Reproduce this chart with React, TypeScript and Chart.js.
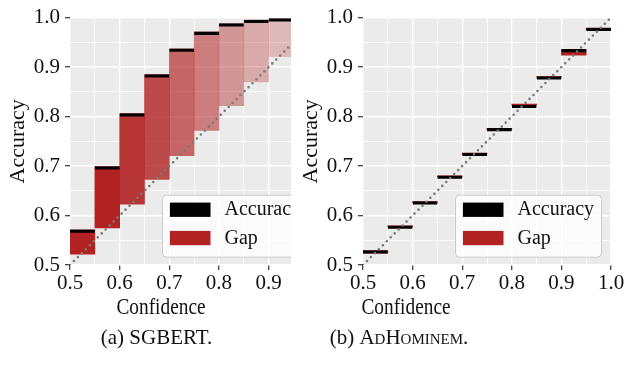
import React, { useEffect, useRef } from 'react';
import { Chart, registerables } from 'chart.js';

Chart.register(...registerables);

const FONT = "'Liberation Serif', 'Times New Roman', Times, serif";

// ---- data ----
const SGBERT_BIN_CENTERS = [0.525, 0.575, 0.625, 0.675, 0.725, 0.775, 0.825, 0.875, 0.925];
const SGBERT_ACCURACY = [0.571, 0.699, 0.806, 0.885, 0.937, 0.971, 0.988, 0.995, 0.998];
const SGBERT_CONFIDENCE = [0.522, 0.575, 0.623, 0.673, 0.721, 0.772, 0.822, 0.87, 0.921];
const SGBERT_GAP_ALPHA = [1, 1, 0.91, 0.8, 0.67, 0.55, 0.42, 0.32, 0.25];

const ADHOMINEM_BIN_CENTERS = [0.525, 0.575, 0.625, 0.675, 0.725, 0.775, 0.825, 0.875, 0.925, 0.975];
const ADHOMINEM_ACCURACY = [0.529, 0.579, 0.628, 0.68, 0.726, 0.776, 0.823, 0.881, 0.936, 0.979];
const ADHOMINEM_CONFIDENCE = [0.524, 0.577, 0.626, 0.678, 0.724, 0.774, 0.825, 0.879, 0.924, 0.975];
const ADHOMINEM_GAP_ALPHA = [1, 1, 1, 1, 1, 1, 1, 1, 1, 1];

const DIAGONAL = [0.5, 1.0];
const Y_RANGE = [0.5, 1.0];
const SGBERT_X_RANGE = [0.5, 0.945];
const ADHOMINEM_X_RANGE = [0.5, 1.0];
const SERIES_LABELS = ['Accuracy', 'Gap'];

const GAP_RGB = [178, 34, 34];

const isMajor = (v: number) => Math.abs(Math.round(v * 100) % 10) === 0;

const bgPlugin = {
  id: 'plotBg',
  beforeDraw(chart: any) {
    const { ctx, chartArea: a } = chart;
    ctx.save();
    ctx.fillStyle = '#EBEBEB';
    ctx.fillRect(a.left, a.top, a.right - a.left, a.bottom - a.top);
    ctx.restore();
  },
};

const legendPlugin = {
  id: 'insideLegend',
  afterDraw(chart: any, _args: any, opts: any) {
    const { ctx, chartArea: a } = chart;
    ctx.save();
    ctx.beginPath();
    ctx.rect(a.left, a.top, a.right - a.left, a.bottom - a.top);
    ctx.clip();
    const x = a.left + opts.offsetX;
    const y = a.top + opts.offsetY;
    const w = 146;
    const h = 62;
    const r = 4;
    ctx.beginPath();
    ctx.moveTo(x + r, y);
    ctx.lineTo(x + w - r, y);
    ctx.arcTo(x + w, y, x + w, y + r, r);
    ctx.lineTo(x + w, y + h - r);
    ctx.arcTo(x + w, y + h, x + w - r, y + h, r);
    ctx.lineTo(x + r, y + h);
    ctx.arcTo(x, y + h, x, y + h - r, r);
    ctx.lineTo(x, y + r);
    ctx.arcTo(x, y, x + r, y, r);
    ctx.closePath();
    ctx.fillStyle = 'rgba(255,255,255,0.8)';
    ctx.fill();
    ctx.strokeStyle = '#CCCCCC';
    ctx.lineWidth = 1;
    ctx.stroke();
    const items = chart.data.datasets.filter((d: any) => d.legendColor);
    items.forEach((d: any, i: number) => {
      const sy = y + 7.4 + i * 28.3;
      ctx.fillStyle = d.legendColor;
      ctx.fillRect(x + 7.4, sy, 40.6, 14.3);
      ctx.fillStyle = '#111';
      ctx.font = `20px ${FONT}`;
      ctx.textAlign = 'left';
      ctx.textBaseline = 'middle';
      ctx.fillText(d.label, x + 62, sy + 7.6);
    });
    ctx.restore();
  },
};

function axisCommon(min: number, max: number) {
  return {
    type: 'linear',
    min,
    max,
    offset: false,
    border: { display: false },
    grid: {
      offset: false,
      color: '#FFFFFF',
      lineWidth: (c: any) => (c.tick && isMajor(c.tick.value) ? 1.4 : 0.8),
      drawTicks: true,
      tickLength: 5,
      tickWidth: 1.2,
      tickColor: (c: any) => (c.tick && isMajor(c.tick.value) ? '#333333' : 'rgba(0,0,0,0)'),
    },
    ticks: {
      stepSize: 0.05,
      autoSkip: false,
      maxRotation: 0,
      includeBounds: false,
      color: '#111111',
      font: { family: FONT, size: 21 },
      callback: (v: number) => (isMajor(v) ? v.toFixed(1) : ''),
    },
  };
}

function makeConfig(
  centers: number[],
  acc: number[],
  conf: number[],
  alpha: number[],
  xRange: number[],
  padRight: number,
) {
  return {
    type: 'bar',
    data: {
      datasets: [
        {
          type: 'line',
          label: 'diag',
          data: DIAGONAL.map((v) => ({ x: v, y: v })),
          borderColor: '#7A7A7A',
          borderWidth: 2.6,
          borderDash: [0, 5.6],
          borderCapStyle: 'round',
          pointRadius: 0,
          fill: false,
          order: -1,
        },
        {
          type: 'bar',
          label: SERIES_LABELS[0],
          legendColor: '#000000',
          data: centers.map((c, i) => ({ x: c, y: acc[i] })),
          backgroundColor: 'rgba(0,0,0,0)',
          borderColor: '#000000',
          borderWidth: { top: 2.6, right: 0, bottom: 0, left: 0 },
          borderSkipped: false,
          grouped: false,
          categoryPercentage: 1,
          barPercentage: 1,
          order: 0,
        },
        {
          type: 'bar',
          label: SERIES_LABELS[1],
          legendColor: '#B22222',
          data: centers.map((c, i) => ({ x: c, y: [conf[i], acc[i]] })),
          backgroundColor: alpha.map(
            (a) => `rgba(${GAP_RGB[0]},${GAP_RGB[1]},${GAP_RGB[2]},${a})`,
          ),
          borderWidth: 0,
          grouped: false,
          categoryPercentage: 1,
          barPercentage: 1,
          order: 1,
        },
      ],
    },
    options: {
      animation: false,
      responsive: false,
      maintainAspectRatio: false,
      devicePixelRatio: 1,
      layout: { padding: { top: 16, right: padRight, bottom: 0, left: 0 } },
      plugins: {
        legend: { display: false },
        tooltip: { enabled: false },
        insideLegend: { offsetX: 92.5, offsetY: 177.6 },
      },
      scales: {
        x: {
          ...axisCommon(xRange[0], xRange[1]),
          ticks: { ...axisCommon(0, 1).ticks, padding: 1 },
          afterFit: (s: any) => {
            s.height = 35;
          },
        },
        y: {
          ...axisCommon(Y_RANGE[0], Y_RANGE[1]),
          ticks: { ...axisCommon(0, 1).ticks, padding: 5 },
          title: {
            display: true,
            text: 'Accuracy',
            color: '#111111',
            font: { family: FONT, size: 22 },
            padding: { top: 5, bottom: 0 },
          },
          afterFit: (s: any) => {
            s.width = 70;
          },
        },
      },
    },
    plugins: [bgPlugin, legendPlugin],
  };
}

function Panel({ left, width, config }: { left: number; width: number; config: () => any }) {
  const ref = useRef<HTMLCanvasElement>(null);
  useEffect(() => {
    const chart = new Chart(ref.current as HTMLCanvasElement, config());
    return () => chart.destroy();
  }, []);
  return (
    <canvas
      ref={ref}
      width={width}
      height={300}
      style={{ position: 'absolute', left, top: 0, width, height: 300 }}
    />
  );
}

function Text({
  cx,
  baseline,
  size,
  children,
  squeeze = 1,
}: {
  cx: number;
  baseline: number;
  size: number;
  children: React.ReactNode;
  squeeze?: number;
}) {
  const top = baseline - 0.8375 * size;
  return (
    <div
      style={{
        position: 'absolute',
        left: cx,
        top,
        transform: `translateX(-50%) scaleX(${squeeze})`,
        whiteSpace: 'nowrap',
        fontFamily: FONT,
        fontSize: size,
        lineHeight: `${size}px`,
        color: '#111',
      }}
    >
      {children}
    </div>
  );
}

export default function App() {
  return (
    <div
      style={{
        position: 'fixed',
        left: 0,
        top: 0,
        width: 627,
        height: 367,
        background: '#fff',
        overflow: 'hidden',
      }}
    >
      <Panel
        left={0}
        width={293}
        config={() =>
          makeConfig(
            SGBERT_BIN_CENTERS,
            SGBERT_ACCURACY,
            SGBERT_CONFIDENCE,
            SGBERT_GAP_ALPHA,
            SGBERT_X_RANGE,
            2,
          )
        }
      />
      <Panel
        left={293}
        width={334}
        config={() =>
          makeConfig(
            ADHOMINEM_BIN_CENTERS,
            ADHOMINEM_ACCURACY,
            ADHOMINEM_CONFIDENCE,
            ADHOMINEM_GAP_ALPHA,
            ADHOMINEM_X_RANGE,
            16,
          )
        }
      />
      <Text cx={161} baseline={314} size={23} squeeze={0.84}>Confidence</Text>
      <Text cx={406} baseline={314} size={23} squeeze={0.84}>Confidence</Text>
      <Text cx={156.5} baseline={345} size={21}>(a) SGBERT.</Text>
      <Text cx={399} baseline={345} size={21}>
        (b) <span style={{ fontVariant: 'small-caps' }}>AdHominem.</span>
      </Text>
    </div>
  );
}
